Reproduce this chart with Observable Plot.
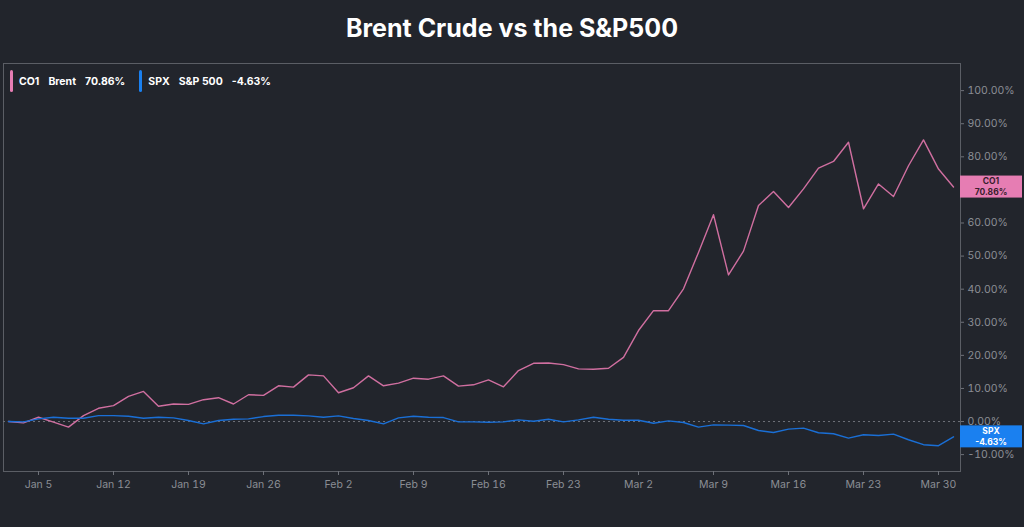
<!DOCTYPE html>
<html><head><meta charset="utf-8">
<script src="https://cdn.jsdelivr.net/npm/d3@7"></script>
<script src="https://cdn.jsdelivr.net/npm/@observablehq/plot@0.6"></script>
<style>
html,body{margin:0;padding:0;background:#22252c;}
body{width:1024px;height:527px;overflow:hidden;font-family:Inter,"Noto Sans",sans-serif;}
#title{height:56px;line-height:56px;text-align:center;color:#ffffff;font-weight:700;font-size:25px;}
#wrap{position:relative;width:1024px;}
#legend{position:absolute;left:10px;top:14px;display:flex;align-items:center;font-size:10.5px;font-weight:700;color:#ffffff;}
.item{display:flex;align-items:center;margin-right:5px;}
.bar{width:3px;height:22px;border-radius:2px;margin-right:6px;}
.item span{margin-right:9px;}
</style>
</head><body>
<div id="title">Brent Crude vs the S&amp;P500</div>
<div id="wrap"><div id="legend"></div></div>
<script>
// Trading-day index (0 = Dec 31) and weekly tick labels
const tickIndex = [2, 7, 12, 17, 22, 27, 32, 37, 42, 47, 52, 57, 62];
const tickLabels = ["Jan 5","Jan 12","Jan 19","Jan 26","Feb 2","Feb 9","Feb 16","Feb 23","Mar 2","Mar 9","Mar 16","Mar 23","Mar 30"];
const yTicks = [-10, 0, 10, 20, 30, 40, 50, 60, 70, 80, 90, 100];

// Cumulative % change
const co1 = [0.0,-0.4,1.3,-0.2,-1.7,1.8,4.0,4.8,7.6,9.1,4.6,5.3,5.2,6.6,7.2,5.3,8.1,7.9,10.8,10.4,14.1,13.8,8.7,10.2,13.8,10.8,11.6,13.1,12.8,13.8,10.7,11.1,12.6,10.5,15.4,17.6,17.7,17.2,15.9,15.8,16.1,19.4,27.5,33.5,33.5,40.1,51.1,62.5,44.3,51.5,65.3,69.5,64.7,70.3,76.6,78.6,84.4,64.3,71.8,68.0,77.3,85.1,76.3,70.86];
const spx = [0.0,-0.1,0.8,1.3,1.0,1.0,1.8,1.8,1.6,1.0,1.3,1.1,0.3,-0.7,0.3,0.7,0.8,1.5,1.9,1.9,1.7,1.3,1.7,0.9,0.3,-0.7,1.1,1.6,1.3,1.2,-0.1,-0.1,-0.2,-0.1,0.5,0.1,0.7,-0.1,0.5,1.3,0.7,0.4,0.4,-0.5,0.2,-0.3,-1.7,-1.0,-1.1,-1.2,-2.7,-3.3,-2.3,-2.0,-3.4,-3.7,-5.0,-4.0,-4.2,-3.8,-5.5,-7.0,-7.3,-4.63];

const series = [
  {code: "CO1", name: "Brent", values: co1, line: "#d06fa0", box: "#e67db3", text: "#3b1f2e", bar: "#e67db3"},
  {code: "SPX", name: "S&P 500", values: spx, line: "#1a6fd6", box: "#1a80f0", text: "#ffffff", bar: "#1a80f0"}
];

const fmt = v => v.toFixed(2) + "%";

const rows = series.flatMap(s => s.values.map((v, i) => ({i, v, code: s.code})));

// tick labels covered by the end-value boxes are not shown
const lastValues = series.map(s => s.values[s.values.length - 1]);
const shownYTicks = yTicks.filter(t => lastValues.every(v => Math.abs(t - v) > 3.4));

// legend
const legend = document.getElementById("legend");
series.forEach(s => {
  const it = document.createElement("div");
  it.className = "item";
  it.innerHTML = `<div class="bar" style="background:${s.bar}"></div><span>${s.code}</span><span>${s.name}</span><span>${fmt(s.values[s.values.length-1])}</span>`;
  legend.appendChild(it);
});

function endLabels(index, scales, values, dims) {
  const g = d3.create("svg:g");
  const x0 = dims.width - dims.marginRight;
  series.forEach(s => {
    const last = s.values[s.values.length - 1];
    const yc = scales.y(last);
    g.append("rect").attr("x", x0).attr("y", yc - 11).attr("width", 62).attr("height", 22).attr("fill", s.box);
    const t = g.append("text").attr("text-anchor", "middle").attr("fill", s.text)
      .attr("font-size", 8.5).attr("font-weight", 700).attr("font-family", "Inter, sans-serif");
    t.append("tspan").attr("x", x0 + 31).attr("y", yc - 2.5).text(s.code);
    t.append("tspan").attr("x", x0 + 31).attr("y", yc + 8.5).text(fmt(last));
  });
  return g.node();
}

const chart = Plot.plot({
  width: 1024,
  height: 471,
  marginLeft: 3,
  marginRight: 64,
  marginTop: 7,
  marginBottom: 56,
  style: {background: "transparent", color: "#8b8e95", fontFamily: "Inter, sans-serif", fontSize: "10.5px"},
  x: {domain: [-0.333, 63.467]},
  y: {domain: [-15.1, 108.2]},
  marks: [
    Plot.frame({stroke: "#5b5e65"}),
    Plot.ruleY([0], {stroke: "#6f727a", strokeDasharray: "2,3", strokeWidth: 1}),
    Plot.axisY({anchor: "right", ticks: shownYTicks, tickFormat: fmt, tickSize: 3, tickPadding: 4, label: null, stroke: "#6f727a"}),
    Plot.axisX({ticks: tickIndex, tickFormat: d => tickLabels[tickIndex.indexOf(d)], tickSize: 4, tickPadding: 5, label: null, stroke: "#6f727a"}),
    Plot.line(rows, {x: "i", y: "v", z: "code", stroke: d => d.code === "CO1" ? series[0].line : series[1].line, strokeWidth: 1.4}),
    endLabels
  ]
});
document.getElementById("wrap").prepend(chart);
</script>
</body></html>
